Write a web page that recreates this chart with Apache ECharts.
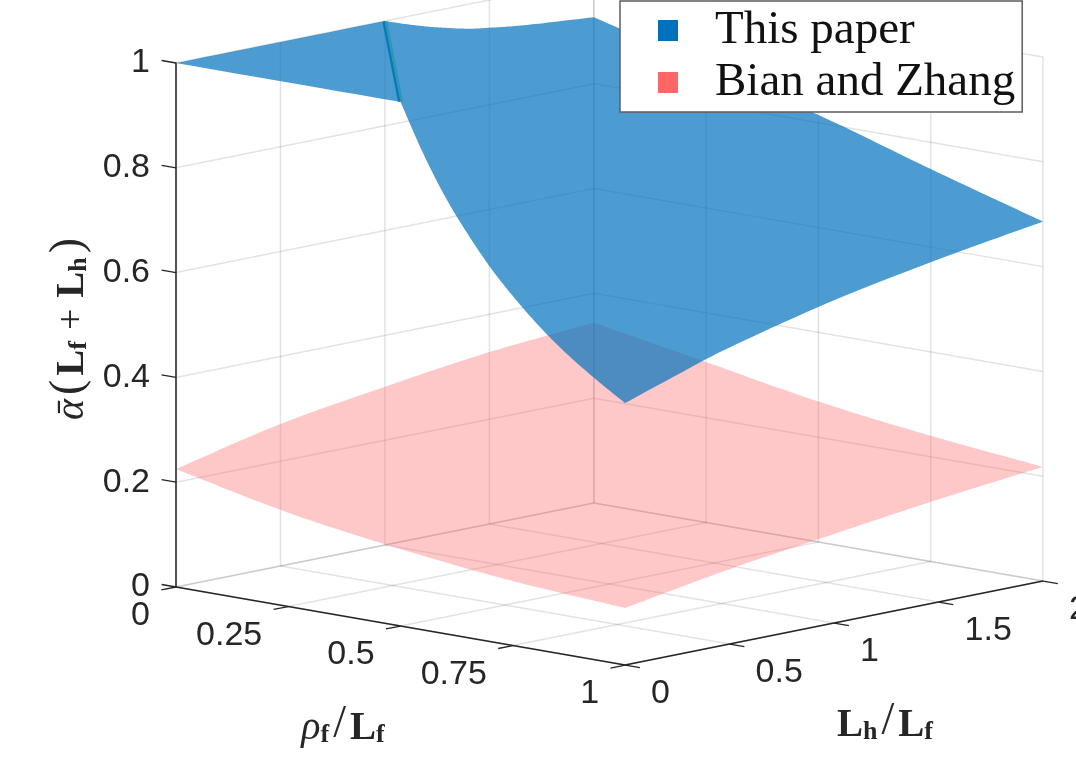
<!DOCTYPE html>
<html>
<head>
<meta charset="utf-8">
<style>html,body{margin:0;padding:0;background:#fff;overflow:hidden}#c{width:1076px;height:759px}</style>
<script src="https://cdn.jsdelivr.net/npm/echarts@6/dist/echarts.min.js"></script>
</head>
<body>
<div id="c"></div>
<script>
// ---- axis ticks ----
const rhoTicks = [0, 0.25, 0.5, 0.75, 1];
const lTicks = [0, 0.5, 1, 1.5, 2];
const zTicks = [0, 0.2, 0.4, 0.6, 0.8, 1];

// ---- "This paper" surface: boundary values ----
const blueFlatL0Rho = [0, 0.5];
const blueFlatL0Z   = [1, 1];
const blueEdgeL0Rho = [0.5, 0.55, 0.6, 0.65, 0.7, 0.75, 0.8, 0.85, 0.9, 0.95, 1];
const blueEdgeL0Z   = [1, 0.91, 0.833, 0.77, 0.714, 0.667, 0.625, 0.588, 0.556, 0.527, 0.5];
const blueEdgeRho1L = [0, 0.25, 0.5, 1, 1.5, 2];
const blueEdgeRho1Z = [0.5, 0.534, 0.566, 0.616, 0.654, 0.686];
const blueEdgeL2Rho = [1, 0.75, 0.5, 0.25, 0];
const blueEdgeL2Z   = [0.686, 0.749, 0.815, 0.87, 0.927];
const blueEdgeRho0L = [2, 1.68, 1.5, 1.39, 1.23, 1.1, 1];
const blueEdgeRho0Z = [0.927, 0.938, 0.947, 0.954, 0.97, 0.986, 1];
const blueFlatRho0L = [1, 0];
const blueFlatRho0Z = [1, 1];
const ridgeRho = [0, 0.5];
const ridgeL = [1, 0];
const ridgeZ = [1, 1];

// ---- "Bian and Zhang" surface: boundary values ----
const redEdgeL0Rho = [0, 0.25, 0.5, 0.75, 1];
const redEdgeL0Z   = [0.225, 0.179, 0.147, 0.123, 0.109];
const redEdgeRho1L = [0, 0.5, 1, 1.5, 2];
const redEdgeRho1Z = [0.109, 0.143, 0.17, 0.196, 0.218];
const redEdgeL2Rho = [1, 0.75, 0.5, 0.25, 0];
const redEdgeL2Z   = [0.218, 0.24, 0.268, 0.306, 0.344];
const redEdgeRho0L = [2, 1.5, 1, 0.5, 0];
const redEdgeRho0Z = [0.344, 0.328, 0.302, 0.271, 0.225];

const seriesNames = ['This paper', 'Bian and Zhang'];

// Orthographic view of the 3-D box onto the 2-D axes
const view = { xRho: 0.518, xL: 0.241, yRho: -0.149, yL: 0.0802 };
function project(rho, l, z) {
  return [view.xRho * rho + view.xL * l, z + view.yRho * rho + view.yL * l];
}

const INK = '#262626';
const GRIDC = 'rgba(38,38,38,0.13)';
const SANS = '"Liberation Sans", Arial, sans-serif';
const SERIF = '"Liberation Serif", serif';

function blueEdges() {
  return [
    blueFlatL0Rho.map((r, i) => [r, 0, blueFlatL0Z[i]]),
    blueEdgeL0Rho.map((r, i) => [r, 0, blueEdgeL0Z[i]]),
    blueEdgeRho1L.map((l, i) => [1, l, blueEdgeRho1Z[i]]),
    blueEdgeL2Rho.map((r, i) => [r, 2, blueEdgeL2Z[i]]),
    blueEdgeRho0L.map((l, i) => [0, l, blueEdgeRho0Z[i]]),
    blueFlatRho0L.map((l, i) => [0, l, blueFlatRho0Z[i]])
  ];
}
function redEdges() {
  return [
    redEdgeL0Rho.map((r, i) => [r, 0, redEdgeL0Z[i]]),
    redEdgeRho1L.map((l, i) => [1, l, redEdgeRho1Z[i]]),
    redEdgeL2Rho.map((r, i) => [r, 2, redEdgeL2Z[i]]),
    redEdgeRho0L.map((l, i) => [0, l, redEdgeRho0Z[i]])
  ];
}

// Draw an edge as a smooth curve through its read points
function curveThrough(p) {
  const out = [];
  const n = p.length;
  for (let i = 0; i < n - 1; i++) {
    const p0 = p[Math.max(i - 1, 0)], p1 = p[i], p2 = p[i + 1], p3 = p[Math.min(i + 2, n - 1)];
    for (let k = 0; k < 16; k++) {
      const t = k / 16, t2 = t * t, t3 = t2 * t;
      out.push([0, 1].map(d => 0.5 * (2 * p1[d] + (p2[d] - p0[d]) * t +
        (2 * p0[d] - 5 * p1[d] + 4 * p2[d] - p3[d]) * t2 +
        (3 * p1[d] - p0[d] - 3 * p2[d] + p3[d]) * t3)));
    }
  }
  return out;
}

function seg(api, a, b, stroke, w) {
  const p = api.coord(project(a[0], a[1], a[2]));
  const q = api.coord(project(b[0], b[1], b[2]));
  return { type: 'line', shape: { x1: p[0], y1: p[1], x2: q[0], y2: q[1] },
           style: { stroke: stroke, lineWidth: w, fill: null }, silent: true };
}

function renderGrid(params, api) {
  const c = [];
  zTicks.forEach(z => {
    c.push(seg(api, [0, 0, z], [0, 2, z], GRIDC, 1.5));
    c.push(seg(api, [0, 2, z], [1, 2, z], GRIDC, 1.5));
  });
  lTicks.forEach(l => {
    if (l > 0) c.push(seg(api, [0, l, 0], [0, l, 1], GRIDC, 1.5));
    c.push(seg(api, [0, l, 0], [1, l, 0], GRIDC, 1.5));
  });
  rhoTicks.forEach(r => {
    c.push(seg(api, [r, 2, 0], [r, 2, 1], GRIDC, 1.5));
    c.push(seg(api, [r, 0, 0], [r, 2, 0], GRIDC, 1.5));
  });
  return { type: 'group', children: c };
}

function surface(edges, color, opacity) {
  return function (params, api) {
    const poly = [];
    edges.forEach(e => {
      const px = e.map(p => api.coord(project(p[0], p[1], p[2])));
      curveThrough(px).forEach(q => poly.push(q));
    });
    return { type: 'polygon', shape: { points: poly }, style: { fill: color, opacity: opacity }, silent: true };
  };
}

function renderRidge(params, api) {
  const a = api.coord(project(ridgeRho[0], ridgeL[0], ridgeZ[0]));
  const b = api.coord(project(ridgeRho[1], ridgeL[1], ridgeZ[1]));
  const stripe = (dx, col) => ({
    type: 'line',
    shape: { x1: a[0] + dx, y1: a[1] + 0.5, x2: b[0] + dx, y2: b[1] - 0.5 },
    style: { stroke: col, lineWidth: 2.6, fill: null }, silent: true
  });
  return { type: 'group', children: [stripe(-1.3, '#0B78BE'), stripe(1.2, '#2E96B6')] };
}

function label(x, y, text, align) {
  return { type: 'text', x: x, y: y, silent: true,
    style: { text: text, fill: INK, fontSize: 34, fontFamily: SANS, align: align, verticalAlign: 'middle' } };
}

function renderAxes(params, api) {
  const c = [];
  c.push(seg(api, [0, 0, 0], [1, 0, 0], INK, 1.6));
  c.push(seg(api, [1, 0, 0], [1, 2, 0], INK, 1.6));
  zTicks.forEach(z => c.push(seg(api, [0, 0, z], [-0.032, 0, z], INK, 1.3)));
  rhoTicks.forEach(r => {
    c.push(seg(api, [r, 0, 0], [r, -0.07, 0], INK, 1.3));
    const p = api.coord(project(r, 0, 0));
    c.push(label(p[0] - 26, p[1] + 29, String(r), 'right'));
  });
  lTicks.forEach(l => {
    c.push(seg(api, [1, l, 0], [1.033, l, 0], INK, 1.3));
    const p = api.coord(project(1, l, 0));
    c.push(label(p[0] + 26, p[1] + 29, String(l), 'left'));
  });
  return { type: 'group', children: c };
}

const mathRich = {
  n: { fontFamily: SERIF, fontSize: 38, fill: INK, verticalAlign: 'bottom' },
  k: { fontFamily: SERIF, fontSize: 38, fill: INK, verticalAlign: 'bottom', padding: [0, 11, 0, 11] },
  v: { fontFamily: SERIF, fontSize: 46, fill: INK, verticalAlign: 'bottom', padding: [0, 4, 0, 4] },
  i: { fontFamily: SERIF, fontStyle: 'italic', fontSize: 40, fill: INK, verticalAlign: 'bottom' },
  b: { fontFamily: SERIF, fontWeight: 'bold', fontSize: 39, fill: INK, verticalAlign: 'bottom' },
  s: { fontFamily: SERIF, fontWeight: 'bold', fontSize: 26, fill: INK, verticalAlign: 'bottom' }
};

function customSeries(name, z, renderItem, color) {
  const s = { type: 'custom', name: name, z: z, silent: true, clip: false,
              coordinateSystem: 'cartesian2d', data: [[0, 0]], renderItem: renderItem,
              animation: false, tooltip: { show: false } };
  if (color) s.itemStyle = { color: color };
  return s;
}

const chart = echarts.init(document.getElementById('c'), null, { renderer: 'canvas' });
chart.setOption({
  animation: false,
  backgroundColor: '#fff',
  grid: { left: 176, top: 63, width: 867, height: 524, containLabel: false },
  xAxis: { type: 'value', min: 0, max: 1, show: false },
  yAxis: {
    type: 'value', min: 0, max: 1, interval: 0.2,
    axisLine: { show: true, onZero: false, lineStyle: { color: INK, width: 1.6 } },
    axisTick: { show: false },
    splitLine: { show: false },
    axisLabel: { color: INK, fontSize: 34, fontFamily: SANS, margin: 26, padding: [0, 0, 5, 0],
                 formatter: v => String(+v.toFixed(1)) }
  },
  legend: {
    left: 620, top: 1, orient: 'vertical',
    data: seriesNames.map(n => ({ name: n, icon: 'rect' })),
    backgroundColor: '#fff', borderColor: '#5c5c5c', borderWidth: 1.5,
    padding: [6, 7, 6, 38], itemWidth: 20, itemHeight: 21, itemGap: 5,
    textStyle: { fontFamily: SERIF, fontSize: 47, color: '#111', padding: [0, 0, 0, 32] },
    selectedMode: false, z: 20
  },
  graphic: [
    { type: 'text', x: 343, y: 725, silent: true, style: {
        text: '{i|\u03C1}{s|f}{v|/}{b|L}{s|f}', rich: mathRich, align: 'center', verticalAlign: 'middle' } },
    { type: 'text', x: 885, y: 722, silent: true, style: {
        text: '{b|L}{s|h}{v|/}{b|L}{s|f}', rich: mathRich, align: 'center', verticalAlign: 'middle' } },
    { type: 'text', x: 69, y: 327, rotation: Math.PI / 2, silent: true, style: {
        text: '{i|\u1FB1}{v|(}{b|L}{s|f}{k|+}{b|L}{s|h}{v|)}', rich: mathRich, align: 'center', verticalAlign: 'middle' } }
  ],
  series: [
    customSeries('grid', 1, renderGrid),
    customSeries(seriesNames[1], 2, surface(redEdges(), '#FF6666', 0.36), '#FF6666'),
    customSeries(seriesNames[0], 3, surface(blueEdges(), '#0072BD', 0.7), '#0072BD'),
    customSeries('ridge', 4, renderRidge),
    customSeries('axes', 5, renderAxes)
  ]
});
</script>
</body>
</html>
